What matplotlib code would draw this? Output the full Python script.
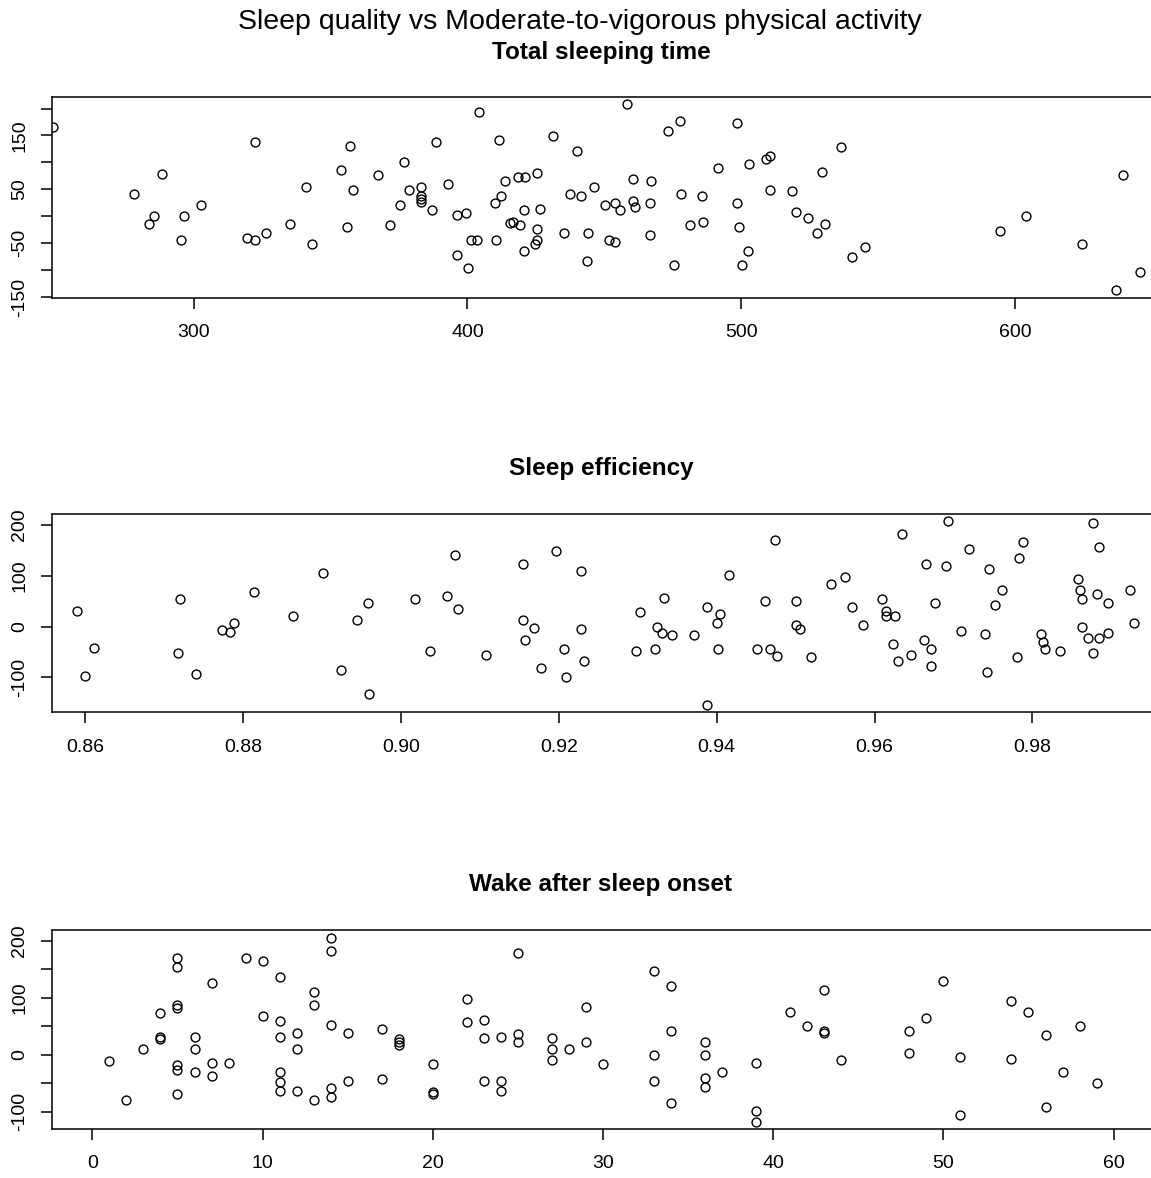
import numpy as np
import matplotlib
matplotlib.use("Agg")
import matplotlib.pyplot as plt

plt.rcParams['font.family'] = ['Liberation Sans', 'DejaVu Sans']

# Total sleeping time (minutes) vs MVPA residual
tst_x = [248.6, 278.2, 288.4, 283.7, 285.5, 295.3, 296.4, 302.6, 322.3, 319.6, 322.3, 326.3, 335.1,
         341.2, 343.3, 354.0, 357.3, 358.1, 356.1, 367.5, 371.6, 377.0, 375.2, 378.5, 383.2, 383.2,
         383.2, 383.2, 388.7, 387.2, 392.8, 396.1, 399.5, 396.1, 400.1, 401.3, 403.5, 404.1, 410.3,
         411.7, 410.2, 412.4, 413.6, 415.7, 416.5, 419.2, 418.4, 421.2, 425.3, 420.5, 426.6, 425.3,
         425.3, 424.5, 420.5, 431.2, 435.4, 437.3, 441.4, 440.1, 446.2, 444.2, 443.5, 450.2, 453.8,
         455.7, 451.7, 453.9, 458.3, 460.5, 460.5, 461.3, 467.2, 466.5, 466.5, 473.4, 477.5, 475.3,
         478.1, 481.4, 485.5, 486.1, 491.6, 498.4, 498.4, 499.0, 503.0, 509.1, 510.6, 510.6, 502.4,
         500.4, 536.4, 529.6, 518.7, 520.1, 524.2, 530.4, 527.6, 540.5, 545.3, 594.6, 604.1, 624.4,
         639.4, 645.5, 636.7]
tst_y = [165, 41, 79, -14, 0, -45, 0, 21, 138, -41, -45, -31, -14,
         55, -52, 86, 131, 49, -20, 76, -17, 100, 21, 49, 55, 38,
         32, 27, 138, 11, 59, 3, 6, -73, -97, -45, -45, 194, -45,
         142, 24, 38, 66, -13, -11, -16, 72, 72, 80, 11, 14, -24,
         -44, -52, -65, 149, -31, 42, 38, 121, 55, -31, -83, 21, 25,
         11, -45, -48, 208, 69, 29, 17, 66, 25, -34, 159, 176, -90,
         42, -17, 38, -10, 90, 173, 25, -20, 97, 107, 111, 49, -65,
         -90, 128, 83, 46, 7, -3, -14, -31, -75, -58, -28, 0, -52,
         76, -103, -138]

# Sleep efficiency vs MVPA residual
se_x = [0.8590, 0.8600, 0.8612, 0.8720, 0.8718, 0.8741, 0.8774, 0.8784, 0.8789, 0.8814, 0.8863,
        0.8901, 0.8924, 0.8944, 0.8958, 0.8960, 0.9018, 0.9037, 0.9059, 0.9068, 0.9073, 0.9108,
        0.9155, 0.9155, 0.9169, 0.9157, 0.9197, 0.9207, 0.9178, 0.9209, 0.9228, 0.9228, 0.9232,
        0.9298, 0.9303, 0.9322, 0.9324, 0.9331, 0.9333, 0.9343, 0.9371, 0.9388, 0.9404, 0.9400,
        0.9402, 0.9388, 0.9416, 0.9451, 0.9461, 0.9467, 0.9474, 0.9476, 0.9501, 0.9500, 0.9506,
        0.9520, 0.9545, 0.9562, 0.9571, 0.9586, 0.9609, 0.9614, 0.9614, 0.9626, 0.9623, 0.9630,
        0.9635, 0.9646, 0.9663, 0.9665, 0.9672, 0.9672, 0.9677, 0.9691, 0.9693, 0.9710, 0.9720,
        0.9740, 0.9743, 0.9745, 0.9753, 0.9762, 0.9780, 0.9783, 0.9788, 0.9811, 0.9813, 0.9816,
        0.9835, 0.9858, 0.9860, 0.9863, 0.9863, 0.9870, 0.9884, 0.9877, 0.9877, 0.9884, 0.9882,
        0.9896, 0.9896, 0.9924, 0.9929]
se_y = [31, -97, -42, 54, -52, -93, -6, -10, 6, 68, 21,
        105, -86, 13, 46, -133, 54, -49, 61, 141, 35, -56,
        123, 13, -2, -27, 149, -45, -82, -100, 109, -5, -67,
        -49, 28, -45, -1, -12, 57, -16, -16, 39, 25, 6,
        -45, -155, 101, -45, 50, -45, 171, -59, 50, 3, -5,
        -60, 83, 97, 39, 3, 54, 31, 21, 21, -34, -67,
        182, -56, -27, 123, -45, -78, 46, 119, 208, -9, 152,
        -15, -89, 113, 43, 72, -60, 134, 167, -15, -30, -45,
        -49, 94, 72, 54, -1, -23, -23, -52, 204, 156, 65,
        46, -12, 72, 6]

# Wake after sleep onset (minutes) vs MVPA residual
waso_x = [1, 2, 3, 4, 4, 4, 5, 5, 5, 5, 5, 5, 5, 6, 6, 6, 7, 7, 7, 8, 9, 10, 10,
          11, 11, 11, 11, 11, 11, 12, 12, 12, 13, 13, 13, 14, 14, 14, 14, 14, 15, 15,
          17, 17, 18, 18, 18, 20, 20, 20, 22, 22, 23, 23, 23, 24, 24, 24, 25, 25, 25,
          27, 27, 27, 28, 29, 29, 30, 33, 33, 33, 34, 34, 34, 36, 36, 36, 36, 37,
          39, 39, 39, 41, 42, 43, 43, 43, 44, 48, 48, 49, 50, 51, 51, 54, 54, 55,
          56, 56, 57, 58, 59]
waso_y = [-11, -79, 10, 74, 31, 28, 170, 153, 88, 82, -18, -27, -69, 32, 10, -30, 126, -14, -37, -14, 169, 165, 68,
          136, 59, 32, -30, -47, -63, 39, 10, -63, 110, 88, -79, 205, 182, 52, -59, -74, 39, -46,
          46, -43, 27, 22, 18, -17, -66, -68, 97, 58, 61, 29, -46, 32, -46, -63, 179, 37, 22,
          29, 10, -10, 10, 84, 22, -17, 146, -1, -46, 120, 42, -85, 22, -1, -40, -57, -30,
          -14, -98, -118, 75, 51, 113, 42, 39, -10, 42, 3, 64, 130, -4, -105, 94, -7, 75,
          35, -92, -30, 51, -49]

panels = [
    ("Total sleeping time", tst_x, tst_y, (248.2, 651.8), (-151.4, 220.9),
     [300, 400, 500, 600], ["300", "400", "500", "600"],
     [-150, -100, -50, 0, 50, 100, 150, 200], ["-150", "", "-50", "", "50", "", "150", ""]),
    ("Sleep efficiency", se_x, se_y, (0.85578, 0.99578), (-169, 221.6),
     [0.86, 0.88, 0.90, 0.92, 0.94, 0.96, 0.98], ["0.86", "0.88", "0.90", "0.92", "0.94", "0.96", "0.98"],
     [-100, 0, 100, 200], ["-100", "0", "100", "200"]),
    ("Wake after sleep onset", waso_x, waso_y, (-2.39, 62.55), (-130, 218.6),
     [0, 10, 20, 30, 40, 50, 60], ["0", "10", "20", "30", "40", "50", "60"],
     [-100, -50, 0, 50, 100, 150, 200], ["-100", "", "0", "", "100", "", "200"]),
]

W, H = 1151, 1178
fig = plt.figure(figsize=(W / 100, H / 100), dpi=100)

# axes boxes in pixels: top, bottom
boxes = [(97.3, 297.7), (514, 712.3), (930, 1129)]
title_y = [53, 469, 884]
left_px, right_px = 51.7, 1157

for (title, xs, ys, xl, yl, xt, xtl, yt, ytl), (top, bot), ty in zip(panels, boxes, title_y):
    ax = fig.add_axes([left_px / W, 1 - bot / H, (right_px - left_px) / W, (bot - top) / H])
    ax.plot(xs, ys, 'o', mfc='none', mec='black', ms=6.4, mew=1.0)
    ax.set_xlim(xl)
    ax.set_ylim(yl)
    ax.set_xticks(xt)
    ax.set_xticklabels(xtl)
    ax.set_yticks(yt)
    ax.set_yticklabels(ytl, rotation=90, va='center')
    for s in ax.spines.values():
        s.set_linewidth(1.1)
    ax.tick_params(axis='both', length=8, width=1.1, labelsize=14)
    ax.tick_params(axis='x', pad=11)
    ax.tick_params(axis='y', pad=9)
    fig.text(601 / W, 1 - ty / H, title, ha='center', va='center', fontsize=17.5, fontweight='bold')

fig.text(580 / W, 1 - 22 / H, "Sleep quality vs Moderate-to-vigorous physical activity",
         ha='center', va='center', fontsize=20.5)

fig.savefig("out.png", dpi=100)
